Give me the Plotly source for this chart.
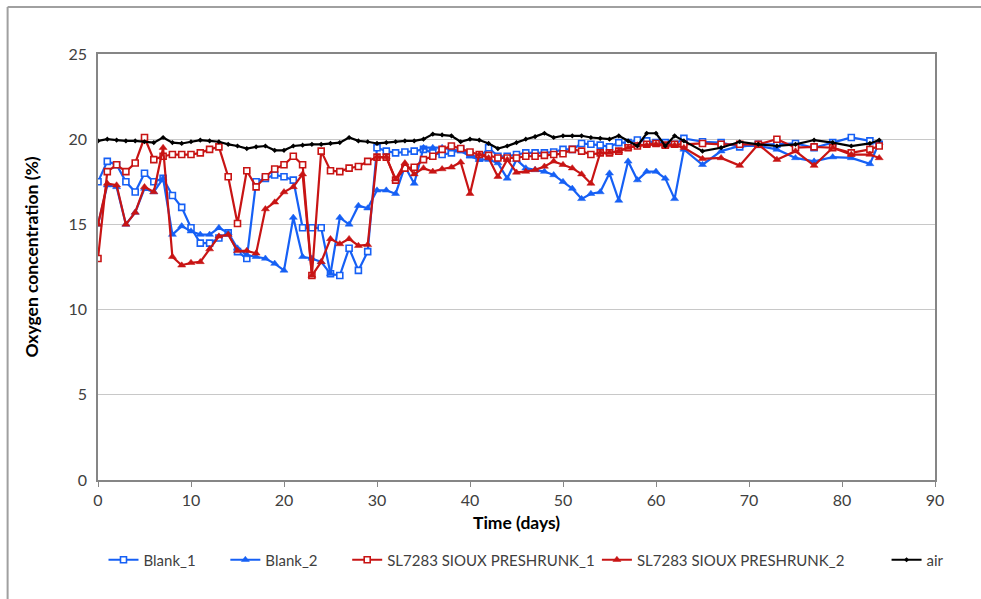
import plotly.graph_objects as go

days = list(range(0, 64)) + [65, 67, 69, 71, 73, 75, 77, 79, 81, 83, 84]

blank_1 = [17.5, 18.7, 18.5, 17.5, 16.9, 18.0, 17.5, 17.7, 16.7, 16.0,
           14.8, 13.9, 13.9, 14.2, 14.5, 13.4, 13.0, 17.5, 17.7, 17.9,
           17.8, 17.6, 14.8, 14.8, 14.8, 12.1, 12.0, 13.6, 12.3, 13.4,
           19.5, 19.3, 19.2, 19.25, 19.3, 19.4, 19.2, 19.1, 19.2, 19.4,
           19.1, 18.9, 19.5, 19.0, 19.0, 19.1, 19.2, 19.2, 19.2, 19.25,
           19.4, 19.4, 19.75, 19.7, 19.65, 19.55, 19.8, 19.8, 19.95, 19.9,
           19.8, 19.8, 19.7, 20.05,
           19.85, 19.8, 19.55, 19.7, 19.7, 19.75, 19.5, 19.8, 20.1, 19.9, 19.7]

blank_2 = [15.0, 17.3, 17.2, 15.0, 15.7, 17.1, 16.9, 17.7, 14.4, 14.9,
           14.6, 14.4, 14.4, 14.8, 14.5, 13.6, 13.2, 13.1, 13.0, 12.7,
           12.3, 15.4, 13.1, 13.0, 12.8, 12.1, 15.4, 15.0, 16.1, 15.95,
           17.0, 17.0, 16.8, 18.4, 17.4, 19.5, 19.5, 19.5, 19.4, 19.3,
           19.0, 18.8, 18.8, 18.6, 17.7, 18.8, 18.3, 18.2, 18.1, 17.9,
           17.5, 17.1, 16.5, 16.8, 16.9, 18.0, 16.4, 18.7, 17.6, 18.1,
           18.1, 17.7, 16.5, 19.4,
           18.5, 19.3, 19.6, 19.6, 19.4, 18.9, 18.7, 18.95, 18.9, 18.55, 19.8]

sl_1 = [13.0, 18.1, 18.5, 18.1, 18.6, 20.1, 18.8, 19.0, 19.1, 19.1,
        19.1, 19.2, 19.4, 19.55, 17.8, 15.05, 18.15, 17.2, 17.8, 18.25,
        18.5, 19.0, 18.5, 12.0, 19.3, 18.15, 18.1, 18.3, 18.4, 18.7,
        18.95, 18.95, 17.6, 18.3, 18.35, 18.8, 19.0, 19.4, 19.6, 19.45,
        19.25, 19.1, 19.05, 18.9, 18.9, 18.9, 19.0, 19.0, 19.05, 19.1,
        19.15, 19.4, 19.3, 19.1, 19.2, 19.2, 19.3, 19.5, 19.6, 19.7,
        19.75, 19.65, 19.7, 19.7,
        19.75, 19.7, 19.7, 19.7, 20.0, 19.5, 19.55, 19.5, 19.2, 19.4, 19.6]

sl_2 = [15.0, 17.4, 17.3, 15.0, 15.7, 17.2, 16.9, 19.5, 13.1, 12.6,
        12.75, 12.8, 13.55, 14.3, 14.4, 13.45, 13.45, 13.3, 15.9, 16.3,
        16.9, 17.2, 17.95, 12.0, 12.8, 14.15, 13.85, 14.15, 13.75, 13.8,
        18.95, 18.95, 17.65, 18.6, 17.95, 18.3, 18.1, 18.25, 18.35, 18.65,
        16.8, 19.1, 18.9, 17.8, 18.8, 18.05, 18.1, 18.2, 18.4, 18.7,
        18.5, 18.3, 17.95, 17.4, 19.2, 19.2, 19.3, 19.5, 19.65, 19.65,
        19.7, 19.6, 19.65, 19.5,
        18.85, 18.9, 18.45, 19.7, 18.8, 19.3, 18.45, 19.5, 19.1, 19.1, 18.9]

air = [19.9, 20.0, 19.95, 19.9, 19.9, 19.85, 19.8, 20.1, 19.8, 19.75,
       19.85, 19.95, 19.9, 19.85, 19.7, 19.6, 19.45, 19.55, 19.6, 19.35,
       19.35, 19.6, 19.65, 19.7, 19.7, 19.75, 19.8, 20.1, 19.9, 19.85,
       19.75, 19.8, 19.85, 19.9, 19.9, 20.0, 20.3, 20.25, 20.2, 19.85,
       20.0, 19.95, 19.75, 19.45, 19.6, 19.8, 20.0, 20.15, 20.35, 20.1,
       20.2, 20.2, 20.2, 20.1, 20.05, 20.0, 20.2, 19.9, 19.6, 20.35,
       20.35, 19.6, 20.2, 19.9,
       19.3, 19.5, 19.85, 19.7, 19.6, 19.7, 19.95, 19.8, 19.6, 19.75, 19.95]

names = ["Blank_1", "Blank_2", "SL7283 SIOUX PRESHRUNK_1", "SL7283 SIOUX PRESHRUNK_2", "air"]
x_title = "Time (days)"
y_title = "Oxygen concentration (%)"

BLUE = "#1660f5"
RED = "#c81414"
FONT = "Lato, 'Open Sans', sans-serif"

L, R, T, B = 97.5, 45.5, 54, 119
W, H = 981, 599
PW, PH = W - L - R, H - T - B

def px_x(x):
    return (x - L) / PW

def px_y(y):
    return (H - B - y) / PH

series = [
    (blank_1, BLUE, dict(symbol="square", size=6, color="white", line=dict(color=BLUE, width=1.6))),
    (blank_2, BLUE, dict(symbol="triangle-up", size=7, color=BLUE, line=dict(color=BLUE, width=0.5))),
    (sl_1, RED, dict(symbol="square", size=6, color="white", line=dict(color=RED, width=1.6))),
    (sl_2, RED, dict(symbol="triangle-up", size=7, color=RED, line=dict(color=RED, width=0.5))),
    (air, "#000000", dict(symbol="diamond", size=4, color="#000000")),
]

legend_starts = [103, 225, 347, 597, 887]

fig = go.Figure()
for i, ((vals, col, mk), nm) in enumerate(zip(series, names)):
    lg = "legend" if i == 0 else f"legend{i+1}"
    fig.add_trace(go.Scatter(
        x=days, y=vals, name=nm, mode="lines+markers",
        line=dict(color=col, width=2.2), marker=mk, legend=lg,
    ))

legends = {}
for i, xs in enumerate(legend_starts):
    key = "legend" if i == 0 else f"legend{i+1}"
    legends[key] = dict(
        x=px_x(xs), y=px_y(560), xanchor="left", yanchor="middle",
        orientation="h", bgcolor="rgba(0,0,0,0)", borderwidth=0,
        font=dict(family=FONT, size=15, color="#404040"),
        itemwidth=30, tracegroupgap=0,
    )

fig.update_layout(
    width=W, height=H,
    margin=dict(l=L, r=R, t=T, b=B, pad=0),
    paper_bgcolor="white", plot_bgcolor="white",
    font=dict(family=FONT, size=16, color="#404040"),
    showlegend=True,
    xaxis=dict(
        range=[0, 90], dtick=10, tick0=0, showgrid=False,
        showline=True, linecolor="#868686", linewidth=1.5, mirror=True,
        ticks="outside", ticklen=5, tickcolor="#868686",
        tickfont=dict(family=FONT, size=16, color="#404040"),
        zeroline=False,
    ),
    yaxis=dict(
        range=[0, 25], dtick=5, tick0=0, showgrid=True, gridcolor="#c8c8c8", gridwidth=1.2,
        showline=True, linecolor="#868686", linewidth=1.5, mirror=True,
        ticks="", ticklabelstandoff=6,
        tickfont=dict(family=FONT, size=16, color="#404040"),
        zeroline=False,
    ),
    annotations=[
        dict(text=f"<b>{x_title}</b>", xref="paper", yref="paper",
             x=px_x(516), y=px_y(522), xanchor="center", yanchor="middle",
             showarrow=False, font=dict(family=FONT, size=17.5, color="#000000")),
        dict(text=f"<b>{y_title}</b>", xref="paper", yref="paper",
             x=px_x(30), y=px_y(257), xanchor="center", yanchor="middle",
             textangle=-90, showarrow=False,
             font=dict(family=FONT, size=17.5, color="#000000")),
    ],
    shapes=[
        dict(type="line", xref="paper", yref="paper", x0=px_x(7), x1=px_x(7),
             y0=px_y(7), y1=px_y(605), line=dict(color="#a0a0a0", width=2)),
        dict(type="line", xref="paper", yref="paper", x0=px_x(7), x1=px_x(985),
             y0=px_y(7), y1=px_y(7), line=dict(color="#a0a0a0", width=2)),
    ],
    **legends,
)

fig.write_html("out.html")
